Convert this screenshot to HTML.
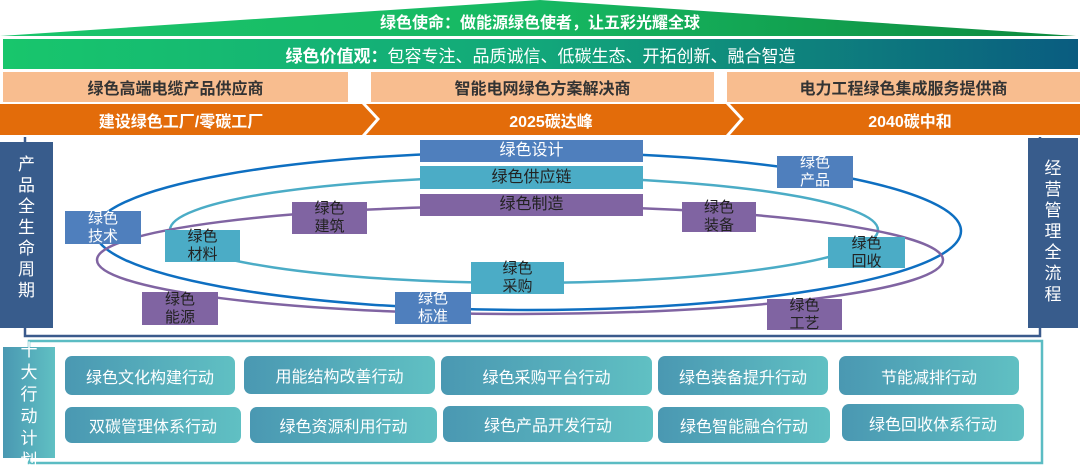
<!DOCTYPE html>
<html><head><meta charset="utf-8"><style>
*{margin:0;padding:0;box-sizing:border-box}
body{width:1080px;height:469px;background:#fff;position:relative;overflow:hidden;font-family:"Liberation Sans","Noto Sans CJK SC",sans-serif;font-weight:bold}
.a{position:absolute}
.t{position:absolute;display:flex;align-items:center;justify-content:center;text-align:center}
.bx{position:absolute;display:flex;align-items:center;justify-content:center;text-align:center;font-size:15px;line-height:18px;font-weight:normal}
.bl{background:#4f7fbd;color:#fff}
.te{background:#4bacc6;color:#222}
.pu{background:#8064a2;color:#222}
.act{position:absolute;border-radius:7px;background:linear-gradient(90deg,#4a98b2,#60c0c3);color:#fff;font-size:16px;font-weight:normal;display:flex;align-items:center;justify-content:center}
.v{position:absolute;color:#fff;font-size:17px;font-weight:normal;line-height:21px;text-align:center}
</style></head><body>
<svg class="a" style="left:0;top:0" width="1080" height="469">
<defs>
<linearGradient id="g0" x1="0" x2="1"><stop offset="0" stop-color="#1bc56c"/><stop offset="0.5" stop-color="#16b862"/><stop offset="1" stop-color="#0e8a3e"/></linearGradient>
<linearGradient id="g1" x1="0" x2="1"><stop offset="0" stop-color="#18c66c"/><stop offset="0.5" stop-color="#12a77a"/><stop offset="1" stop-color="#0a5c80"/></linearGradient></defs>
<polygon points="0,36 540,0 1076,36" fill="url(#g0)"/>
<rect x="3" y="39" width="1075" height="30" fill="url(#g1)"/>
<polygon points="0,104 362,104 376,119 362,135 0,135" fill="#e36c0a"/>
<polygon points="366,104 726,104 740,119 726,135 366,135 380,119" fill="#e36c0a"/>
<polygon points="730,104 1080,104 1080,135 730,135 744,119" fill="#e36c0a"/>
<polyline points="25,137 25,336 1040,336 1040,137" fill="none" stroke="#3a5a8c" stroke-width="2.5"/>
<ellipse cx="528" cy="231" rx="433" ry="79" fill="none" stroke="#0e6fc1" stroke-width="2.5"/>
<ellipse cx="524" cy="230" rx="354" ry="53" fill="none" stroke="#4bacc6" stroke-width="2.5"/>
<ellipse cx="520" cy="260" rx="423" ry="54" fill="none" stroke="#8064a2" stroke-width="2.5"/>
<rect x="29" y="341" width="1013" height="122" fill="none" stroke="#5bbcc3" stroke-width="2.5"/>
</svg>
<div class="t" style="left:0;top:8px;width:1080px;height:26px;color:#fff;font-size:16px">绿色使命：做能源绿色使者，让五彩光耀全球</div>
<div class="t" style="left:3px;top:39px;width:1075px;height:30px;color:#fff;font-size:17px;font-weight:normal"><b>绿色价值观：</b>包容专注、品质诚信、低碳生态、开拓创新、融合智造</div>
<div class="t" style="left:3px;top:72px;width:345px;height:30px;background:#f8bd8f;color:#333;font-size:16px">绿色高端电缆产品供应商</div>
<div class="t" style="left:371px;top:72px;width:343px;height:30px;background:#f8bd8f;color:#333;font-size:16px">智能电网绿色方案解决商</div>
<div class="t" style="left:727px;top:72px;width:353px;height:30px;background:#f8bd8f;color:#333;font-size:16px">电力工程绿色集成服务提供商</div>
<div class="t" style="left:0;top:104px;width:362px;height:31px;color:#fff;font-size:16px">建设绿色工厂/零碳工厂</div>
<div class="t" style="left:376px;top:104px;width:350px;height:31px;color:#fff;font-size:16px">2025碳达峰</div>
<div class="t" style="left:740px;top:104px;width:340px;height:31px;color:#fff;font-size:16px">2040碳中和</div>
<div class="a" style="left:0;top:142px;width:53px;height:186px;background:#385c8c"></div>
<div class="v" style="left:0;top:154px;width:53px">产<br>品<br>全<br>生<br>命<br>周<br>期</div>
<div class="a" style="left:1028px;top:138px;width:50px;height:190px;background:#385c8c"></div>
<div class="v" style="left:1028px;top:158px;width:50px">经<br>营<br>管<br>理<br>全<br>流<br>程</div>
<div class="bx bl" style="left:420px;top:140px;width:223px;height:22px;font-size:16px">绿色设计</div>
<div class="bx te" style="left:420px;top:166px;width:223px;height:23px;font-size:16px">绿色供应链</div>
<div class="bx pu" style="left:420px;top:194px;width:223px;height:22px;font-size:16px">绿色制造</div>
<div class="bx bl" style="left:65px;top:211px;width:76px;height:33px">绿色<br>技术</div>
<div class="bx te" style="left:165px;top:230px;width:75px;height:32px">绿色<br>材料</div>
<div class="bx pu" style="left:292px;top:202px;width:75px;height:32px">绿色<br>建筑</div>
<div class="bx pu" style="left:142px;top:292px;width:76px;height:33px">绿色<br>能源</div>
<div class="bx bl" style="left:395px;top:292px;width:76px;height:32px">绿色<br>标准</div>
<div class="bx te" style="left:471px;top:262px;width:93px;height:32px">绿色<br>采购</div>
<div class="bx bl" style="left:777px;top:156px;width:76px;height:32px">绿色<br>产品</div>
<div class="bx pu" style="left:682px;top:202px;width:74px;height:30px">绿色<br>装备</div>
<div class="bx te" style="left:828px;top:237px;width:77px;height:31px">绿色<br>回收</div>
<div class="bx pu" style="left:767px;top:299px;width:75px;height:31px">绿色<br>工艺</div>
<div class="a" style="left:3px;top:347px;width:52px;height:111px;background:linear-gradient(90deg,#4a98b2,#60c0c3)"></div>
<div class="v" style="left:3px;top:340px;width:52px;line-height:22px;font-size:17px">十<br>大<br>行<br>动<br>计<br>划</div>
<div class="act" style="left:65px;top:356px;width:170px;height:39px">绿色文化构建行动</div>
<div class="act" style="left:244px;top:356px;width:191px;height:38px">用能结构改善行动</div>
<div class="act" style="left:441px;top:356px;width:211px;height:39px">绿色采购平台行动</div>
<div class="act" style="left:658px;top:356px;width:170px;height:39px">绿色装备提升行动</div>
<div class="act" style="left:839px;top:356px;width:180px;height:39px">节能减排行动</div>
<div class="act" style="left:65px;top:407px;width:176px;height:36px">双碳管理体系行动</div>
<div class="act" style="left:250px;top:407px;width:187px;height:36px">绿色资源利用行动</div>
<div class="act" style="left:443px;top:406px;width:210px;height:36px">绿色产品开发行动</div>
<div class="act" style="left:658px;top:407px;width:172px;height:36px">绿色智能融合行动</div>
<div class="act" style="left:842px;top:404px;width:182px;height:37px">绿色回收体系行动</div>
</body></html>
